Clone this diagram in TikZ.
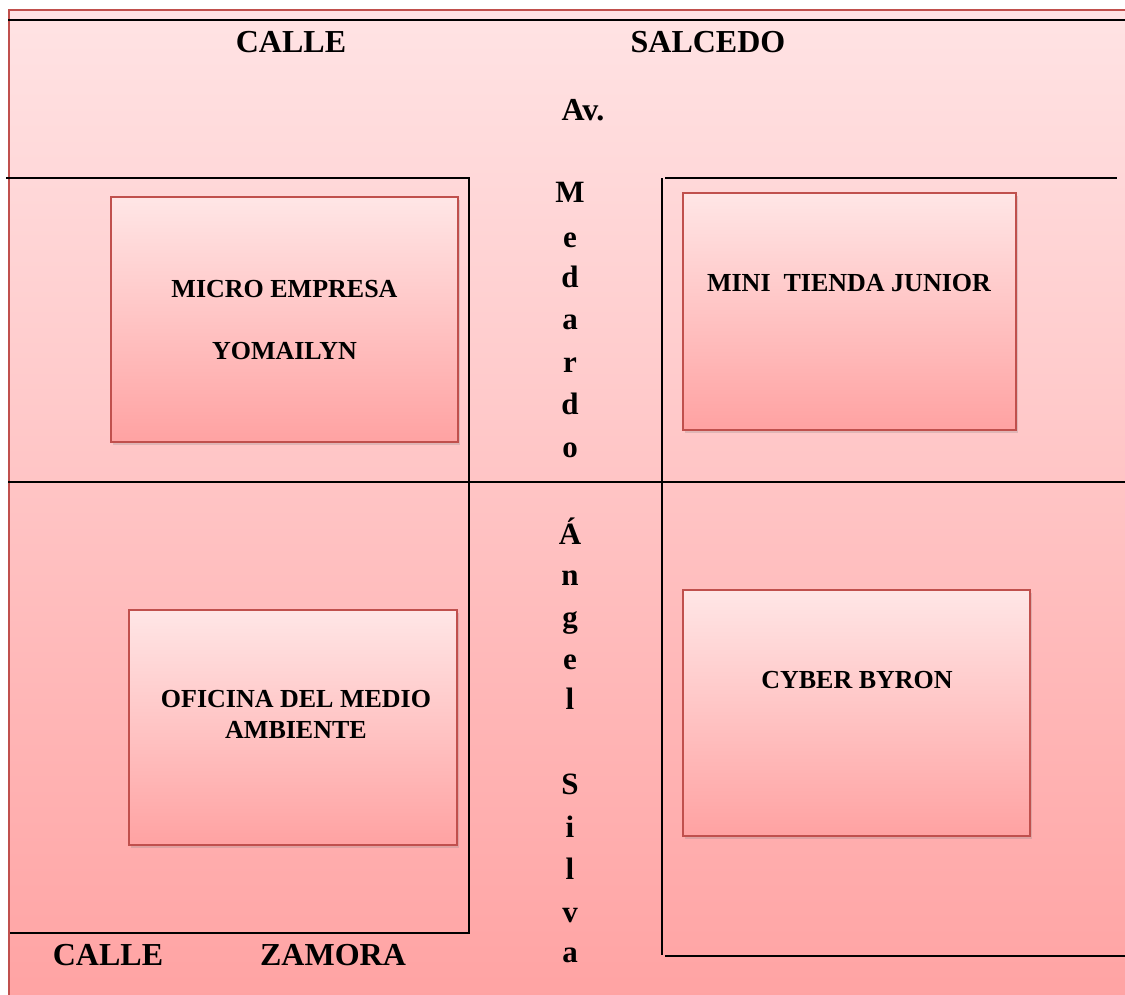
\documentclass[tikz,border=0pt]{standalone}
\usepackage{fontspec}
\setmainfont{Liberation Serif}
\usetikzlibrary{shadows}
\definecolor{bgtop}{HTML}{FFE3E4}
\definecolor{bgbot}{HTML}{FFA3A3}
\definecolor{boxtop}{HTML}{FFE6E6}
\definecolor{boxbot}{HTML}{FFA2A2}
\definecolor{redline}{HTML}{C0504D}
\tikzset{
  street/.style={font=\fontsize{32}{32}\selectfont\bfseries, inner sep=0pt},
  vletter/.style={font=\fontsize{31}{31}\selectfont\bfseries, inner sep=0pt},
  shopbox/.style={draw=redline, line width=2pt, top color=boxtop, bottom color=boxbot,
    drop shadow={opacity=0.25, shadow xshift=2pt, shadow yshift=-3pt}, inner sep=0pt},
  shoptext/.style={font=\fontsize{26}{26}\selectfont\bfseries, align=center, inner sep=0pt},
  blockline/.style={black, line width=2pt},
}
\begin{document}
\begin{tikzpicture}[x=1pt, y=-1pt]
\useasboundingbox (0,0) rectangle (1125,994);
% background
\shade[top color=bgtop, bottom color=bgbot] (9,10) rectangle (1130,1000);
\draw[redline, line width=2pt] (9,1000) -- (9,10) -- (1130,10);
% street lines
\draw[blockline] (8,20) -- (1125,20);
\draw[blockline] (6,178) -- (469,178) -- (469,933) -- (10,933);
\draw[blockline] (665,178) -- (1117,178);
\draw[blockline] (662,178) -- (662,955);
\draw[blockline] (665,956) -- (1125,956);
\draw[blockline] (8,482) -- (1125,482);
% street labels
\node[street] (calle1) at (291,42) {CALLE};
\node[street] (salcedo) at (708,42) {SALCEDO};
\node[street] (av) at (583,110) {Av.};
\node[street] (calle2) at (108,955) {CALLE};
\node[street] (zamora) at (333,955) {ZAMORA};
% vertical avenue name
\foreach \ch/\yy [count=\i] in {M/196,e/241,d/281,a/323,r/366,d/408,o/451,Á/536,n/579,g/621,e/663,l/703,S/788,i/831,l/873,v/916,a/956}
  \node[vletter] (v\i) at (570,\yy) {\strut\ch};
% shops
\node[shopbox, minimum width=347pt, minimum height=245pt] (micro) at (284.5,319.5) {};
\node[shoptext] (microtxt) at (284.5,320) {MICRO EMPRESA\\[36pt]YOMAILYN};
\node[shopbox, minimum width=333pt, minimum height=237pt] (mini) at (849.5,311.5) {};
\node[shoptext] (minitxt) at (849,283) {MINI\ \ TIENDA JUNIOR};
\node[shopbox, minimum width=328pt, minimum height=235pt] (oficina) at (293,727.5) {};
\node[shoptext] (oficinatxt) at (296,714) {OFICINA DEL MEDIO\\[5pt]AMBIENTE};
\node[shopbox, minimum width=347pt, minimum height=246pt] (cyber) at (856.5,713) {};
\node[shoptext] (cybertxt) at (857,680) {CYBER BYRON};
\end{tikzpicture}
\end{document}
